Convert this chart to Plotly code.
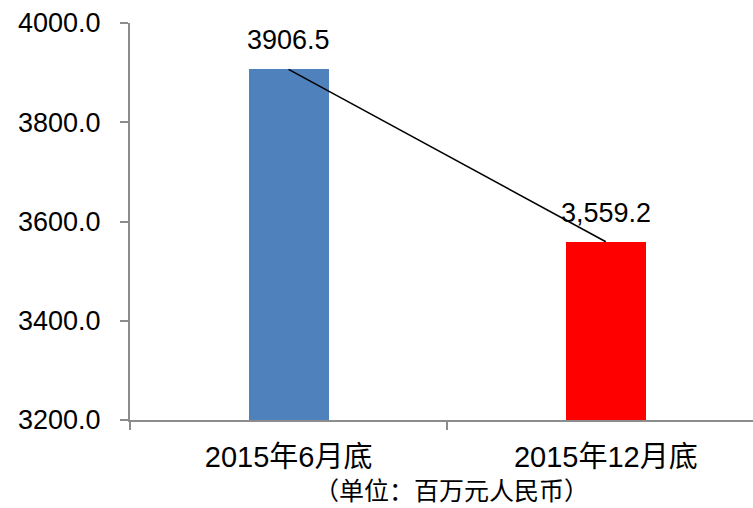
import plotly.graph_objects as go

categories = ["2015年6月底", "2015年12月底"]
values = [3906.5, 3559.2]
value_labels = ["3906.5", "3,559.2"]
bar_colors = ["#4F81BD", "#FF0000"]
y_ticks = [3200, 3400, 3600, 3800, 4000]
unit_note = "（单位：百万元人民币）"

FONT = "Liberation Sans, Arial, Noto Sans CJK SC, sans-serif"

fig = go.Figure()
fig.add_trace(go.Bar(
    x=categories, y=values, marker_color=bar_colors, width=0.252,
    marker_line_width=0, showlegend=False, hoverinfo="skip",
))
fig.add_trace(go.Scatter(
    x=categories, y=values, mode="lines",
    line=dict(color="black", width=1.5), showlegend=False, hoverinfo="skip",
))
for c, v, t in zip(categories, values, value_labels):
    fig.add_annotation(x=c, y=v, text=t, showarrow=False, yanchor="bottom",
                       yshift=12, font=dict(family=FONT, size=27, color="black"))

fig.add_annotation(xref="paper", yref="paper", x=(451 - 130) / 623, y=0,
                   yshift=-69, yanchor="middle", xanchor="center",
                   text=unit_note, showarrow=False,
                   font=dict(family="Noto Sans CJK SC", size=25, color="black"))

fig.update_layout(
    width=753, height=508,
    margin=dict(l=130, r=0, t=23, b=88),
    paper_bgcolor="white", plot_bgcolor="white",
    bargap=0,
    font=dict(family=FONT, size=27, color="black"),
)
fig.update_xaxes(
    type="category", range=[-0.5, 1.464],
    showline=True, linecolor="#8C8C8C", linewidth=2,
    ticks="outside", tickson="boundaries", ticklen=8, tickcolor="#8C8C8C", tickwidth=2,
    showgrid=False, zeroline=False,
    tickfont=dict(family=FONT, size=29, color="black"),
    ticklabelstandoff=10,
)
fig.update_yaxes(
    range=[3200, 4000], tickvals=y_ticks, tickformat=".1f",
    showline=True, linecolor="#8C8C8C", linewidth=2,
    ticks="outside", ticklen=8, tickcolor="#8C8C8C", tickwidth=2,
    showgrid=False, zeroline=False,
    tickfont=dict(family=FONT, size=27, color="black"),
    ticklabelstandoff=14,
)

fig.write_html("out.html")
